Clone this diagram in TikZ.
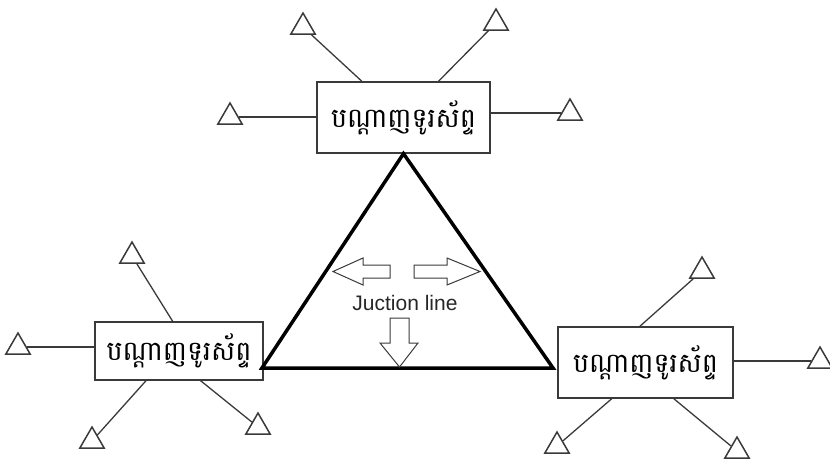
\documentclass[tikz,border=0pt]{standalone}
\usepackage{fontspec}
\setmainfont{Liberation Sans}
\newfontfamily\khmerfont[Script=Khmer]{Battambang}
\usetikzlibrary{shapes.geometric}
\definecolor{ln}{HTML}{3A3A3A}
\begin{document}
\begin{tikzpicture}[x=1pt,y=-1pt,
  netbox/.style={draw=ln,line width=1.3pt,fill=white,inner sep=0pt,
    font=\khmerfont\fontsize{27}{30}\selectfont},
  marker/.style={draw=ln,line width=1.5pt,regular polygon,regular polygon sides=3,
    minimum size=28pt,inner sep=0pt},
  conn/.style={draw=ln,line width=1.3pt},
  bigtri/.style={draw=black,line width=3.5pt,line join=miter},
  fatarrow/.style={draw=ln,line width=1pt,fill=white,line join=miter}]
\useasboundingbox (0,0) rectangle (830,458);
% boxes
\node[netbox,minimum width=173pt,minimum height=71pt] (top) at (403.5,117.5) {បណ្ដាញទូរស័ព្ទ};
\node[netbox,minimum width=168pt,minimum height=58pt] (left) at (179,351) {បណ្ដាញទូរស័ព្ទ};
\node[netbox,minimum width=175pt,minimum height=71pt] (right) at (645.5,362.5) {បណ្ដាញទូរស័ព្ទ};
% markers
\node[marker] (tTL) at (303,27) {};
\node[marker] (tTR) at (496,23) {};
\node[marker] (tL) at (230,117) {};
\node[marker] (tR) at (570,113) {};
\node[marker] (lT) at (132,256) {};
\node[marker] (lL) at (18,347) {};
\node[marker] (lBL) at (92,441) {};
\node[marker] (lBR) at (258,427) {};
\node[marker] (rT) at (702,271) {};
\node[marker] (rR) at (820,361) {};
\node[marker] (rBL) at (557,446) {};
\node[marker] (rBR) at (737,451) {};
% connectors
\draw[conn] (top.139) -- (tTL);
\draw[conn] (top.46) -- (tTR);
\draw[conn] (tL -| top.west) -- (tL);
\draw[conn] (tR -| top.east) -- (tR);
\draw[conn] (left.102) -- (lT);
\draw[conn] (lL -| left.west) -- (lL);
\draw[conn] (left.222) -- (lBL);
\draw[conn] (left.306) -- (lBR);
\draw[conn] (right.99) -- (rT);
\draw[conn] (rR -| right.east) -- (rR);
\draw[conn] (right.227) -- (rBL);
\draw[conn] (right.308) -- (rBR);
% big triangle
\coordinate (A) at (top.south);
\coordinate (B) at (262,368);
\coordinate (C) at (553,368);
\draw[bigtri] (A) -- (B) -- (C) -- cycle;
% arrows
\draw[fatarrow] (390,265) -- (363,265) -- (363,258) -- (333,271.5) -- (363,285) -- (363,278) -- (390,278) -- cycle;
\draw[fatarrow] (414,265) -- (447,265) -- (447,258) -- (480,271.5) -- (447,285) -- (447,278) -- (414,278) -- cycle;
\draw[fatarrow] (390,318) -- (409,318) -- (409,343) -- (418,343) -- (399.5,367) -- (380,343) -- (390,343) -- cycle;
\node[text=black!85,font=\fontsize{21}{24}\selectfont,inner sep=0pt] (lbl) at (405,303) {Juction line};
\end{tikzpicture}
\end{document}
